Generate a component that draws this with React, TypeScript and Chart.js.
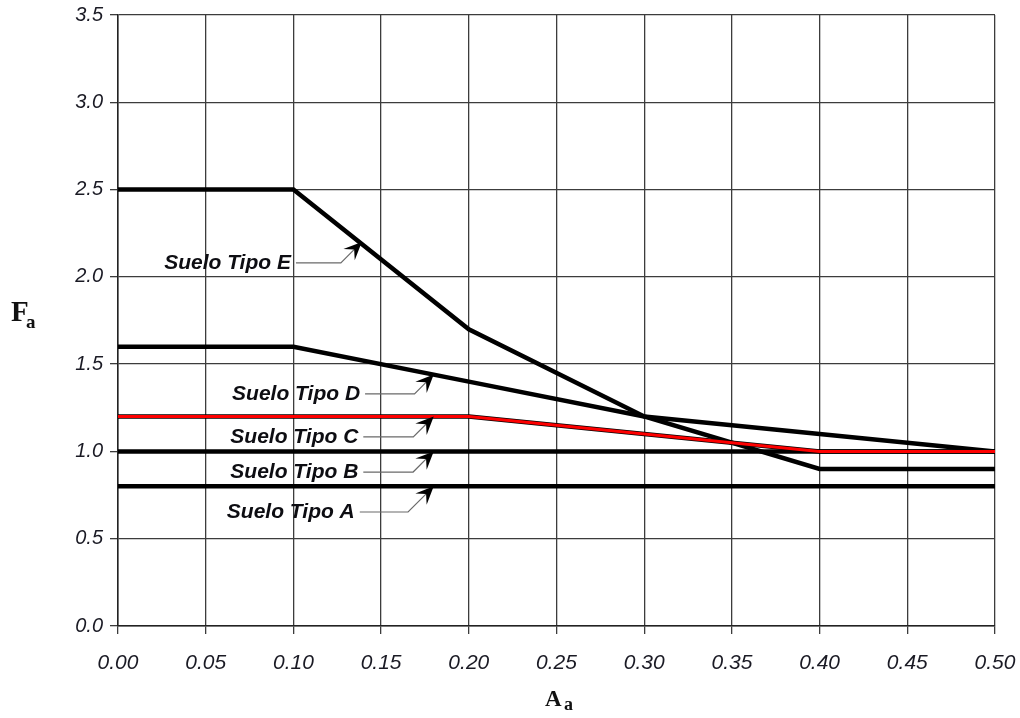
import React, { useEffect, useRef } from "react";
import { Chart, registerables } from "chart.js";

Chart.register(...registerables);

// ---- data ----
const xTickValues = [0, 0.05, 0.1, 0.15, 0.2, 0.25, 0.3, 0.35, 0.4, 0.45, 0.5];
const yTickValues = [0, 0.5, 1.0, 1.5, 2.0, 2.5, 3.0, 3.5];

const aaE = [0, 0.1, 0.2, 0.3, 0.4, 0.5];
const faE = [2.5, 2.5, 1.7, 1.2, 0.9, 0.9];
const aaD = [0, 0.1, 0.2, 0.3, 0.4, 0.5];
const faD = [1.6, 1.6, 1.4, 1.2, 1.1, 1.0];
const aaC = [0, 0.2, 0.3, 0.4, 0.5];
const faC = [1.2, 1.2, 1.1, 1.0, 1.0];
const aaB = [0, 0.5];
const faB = [1.0, 1.0];
const aaA = [0, 0.5];
const faA = [0.8, 0.8];

const annLabels = ["Suelo Tipo E", "Suelo Tipo D", "Suelo Tipo C", "Suelo Tipo B", "Suelo Tipo A"];
const annTipX = [0.139, 0.18, 0.18, 0.18, 0.18];
const annTipY = [2.2, 1.44, 1.2, 1.0, 0.8];
const annTextEndX = [0.0986, 0.138, 0.137, 0.137, 0.135];
const annTextY = [2.08, 1.33, 1.083, 0.882, 0.653];

const pts = (xs: number[], ys: number[]) => xs.map((x, i) => ({ x, y: ys[i] }));

const annotationPlugin = {
  id: "soilAnnotations",
  afterDatasetsDraw(chart: any) {
    const { ctx, scales } = chart;
    const xs = scales.x;
    const ys = scales.y;
    ctx.save();
    for (let i = 0; i < annLabels.length; i++) {
      const tx = xs.getPixelForValue(annTipX[i]);
      const ty = ys.getPixelForValue(annTipY[i]);
      const ex = xs.getPixelForValue(annTextEndX[i]);
      const ly = ys.getPixelForValue(annTextY[i]);
      // text
      ctx.font = 'italic bold 21px "Liberation Sans"';
      ctx.fillStyle = "#0d0d12";
      ctx.textAlign = "right";
      ctx.textBaseline = "middle";
      ctx.fillText(annLabels[i], ex, ly);
      // leader
      const dy = ly - ty;
      const bx = tx - dy;
      ctx.strokeStyle = "#6a6a6a";
      ctx.lineWidth = 1.2;
      ctx.beginPath();
      ctx.moveTo(ex + 5, ly);
      ctx.lineTo(bx, ly);
      ctx.lineTo(tx - 4, ty + 4);
      ctx.stroke();
      // arrowhead
      const ang = Math.atan2(ty - ly, tx - bx);
      const L = 18;
      const W = 8;
      const cos = Math.cos(ang);
      const sin = Math.sin(ang);
      const back = (d: number, w: number) => [tx - d * cos - w * sin, ty - d * sin + w * cos];
      const p1 = back(L, W);
      const p2 = back(L * 0.6, 0);
      const p3 = back(L, -W);
      ctx.fillStyle = "#000";
      ctx.beginPath();
      ctx.moveTo(tx, ty);
      ctx.lineTo(p1[0], p1[1]);
      ctx.lineTo(p2[0], p2[1]);
      ctx.lineTo(p3[0], p3[1]);
      ctx.closePath();
      ctx.fill();
    }
    ctx.restore();
  },
  afterDraw(chart: any) {
    const { ctx } = chart;
    ctx.save();
    ctx.fillStyle = "#111";
    ctx.textAlign = "left";
    ctx.textBaseline = "alphabetic";
    ctx.font = 'bold 29px "Liberation Serif"';
    ctx.fillText("F", 11, 321);
    ctx.font = 'bold 19px "Liberation Serif"';
    ctx.fillText("a", 26, 328);
    ctx.font = 'bold 23px "Liberation Serif"';
    ctx.fillText("A", 545, 706);
    ctx.font = 'bold 18px "Liberation Serif"';
    ctx.fillText("a", 564, 710);
    ctx.restore();
  },
};

export default function App() {
  const ref = useRef<HTMLCanvasElement | null>(null);
  useEffect(() => {
    document.body.style.margin = "0";
    const canvas = ref.current!;
    const lineDs = (label: string, data: any[], color: string, width: number, order: number) => ({
      label,
      data,
      borderColor: color,
      backgroundColor: color,
      borderWidth: width,
      pointRadius: 0,
      showLine: true,
      fill: false,
      tension: 0,
      order,
    });
    const zeroPad = (s: any) => {
      s.paddingLeft = 0;
      s.paddingRight = 0;
      s.paddingTop = 0;
      s.paddingBottom = 0;
    };
    const chart = new Chart(canvas, {
      type: "scatter",
      data: {
        datasets: [
          lineDs("C (red)", pts(aaC, faC), "#ff0000", 3, 0),
          lineDs("E", pts(aaE, faE), "#000", 4.5, 2),
          lineDs("D", pts(aaD, faD), "#000", 4.5, 2),
          lineDs("C", pts(aaC, faC), "#000", 4.5, 1),
          lineDs("B", pts(aaB, faB), "#000", 4.5, 2),
          lineDs("A", pts(aaA, faA), "#000", 4.5, 2),
        ] as any,
      },
      options: {
        animation: false,
        responsive: false,
        devicePixelRatio: 1,
        layout: { padding: { left: 0, top: 15, right: 25, bottom: 0 } },
        plugins: { legend: { display: false }, tooltip: { enabled: false } },
        scales: {
          x: {
            type: "linear",
            min: 0,
            max: 0.5,
            afterBuildTicks: (s: any) => {
              s.ticks = xTickValues.map((v) => ({ value: v }));
            },
            afterFit: (s: any) => {
              s.height = 92;
              zeroPad(s);
            },
            grid: { color: "#3c3c3c", lineWidth: 1.3, tickLength: 8, tickColor: "#3c3c3c" },
            border: { color: "#222", width: 1.5 },
            ticks: {
              autoSkip: false,
              maxRotation: 0,
              padding: 17,
              color: "#1a1a24",
              font: { family: '"Liberation Sans"', style: "italic", size: 21 },
              callback: (v: any) => Number(v).toFixed(2),
            },
          },
          y: {
            type: "linear",
            min: 0,
            max: 3.5,
            afterBuildTicks: (s: any) => {
              s.ticks = yTickValues.map((v) => ({ value: v }));
            },
            afterFit: (s: any) => {
              s.width = 118;
              zeroPad(s);
            },
            grid: { color: "#3c3c3c", lineWidth: 1.3, tickLength: 8, tickColor: "#3c3c3c" },
            border: { color: "#222", width: 1.5 },
            ticks: {
              autoSkip: false,
              padding: 7,
              color: "#1a1a24",
              font: { family: '"Liberation Sans"', style: "italic", size: 20 },
              callback: (v: any) => Number(v).toFixed(1),
            },
          },
        },
      },
      plugins: [annotationPlugin],
    });
    return () => chart.destroy();
  }, []);
  return (
    <div style={{ position: "absolute", left: 0, top: 0, width: 1020, height: 718, background: "#fff" }}>
      <canvas ref={ref} width={1020} height={718} style={{ display: "block" }} />
    </div>
  );
}
